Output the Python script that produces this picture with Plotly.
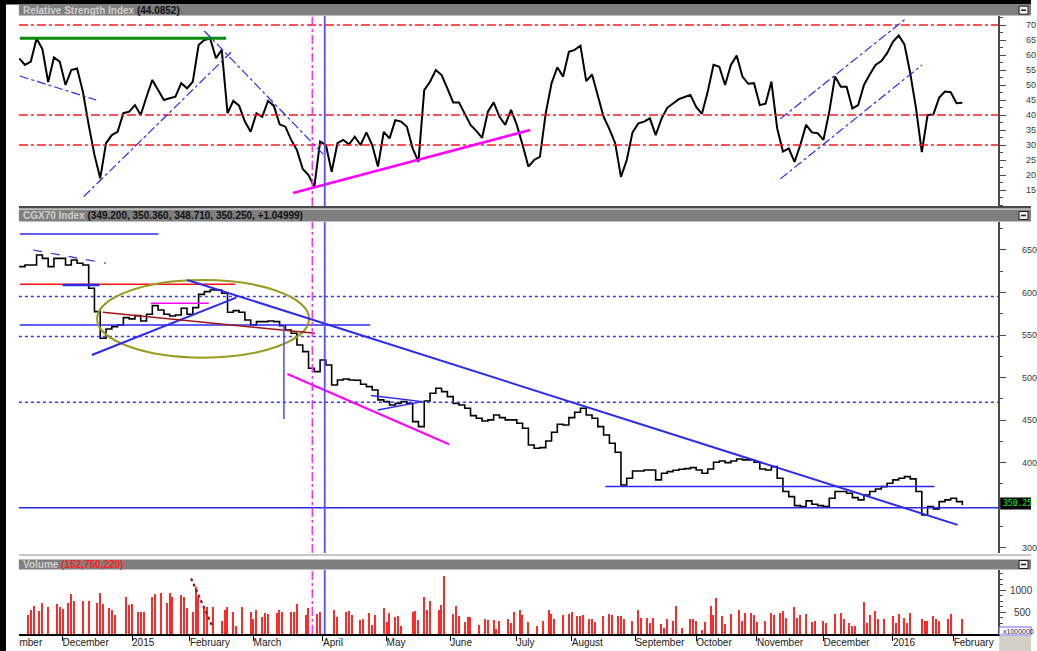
import plotly.graph_objects as go

W, H = 1037, 651

# ---------------- data (session index = trading-day slot) ----------------
rsi_values = [
    58.9, 56.7, 57.8, 65.5, 62.0, 51.0, 59.2, 57.8, 50.0, 55.0,
    55.5, 47.8, 36.7, 26.7, 18.9, 30.6, 33.3, 34.4, 40.6, 41.1,
    43.3, 40.0, 46.1, 51.7, 48.3, 45.0, 45.6, 46.1, 50.6, 48.9,
    51.1, 63.3, 65.0, 65.5, 58.9, 61.7, 40.6, 44.7, 43.1, 37.8,
    34.4, 40.6, 39.4, 44.7, 43.1, 36.9, 36.1, 31.7, 28.3, 22.0,
    20.0, 16.0, 31.1, 30.0, 21.1, 30.6, 31.7, 30.2, 32.8, 30.0,
    34.2, 30.0, 22.8, 34.4, 32.2, 38.3, 37.8, 36.1, 28.9, 24.4,
    48.3, 51.1, 55.0, 53.3, 48.9, 44.2, 44.2, 40.6, 36.7, 34.7,
    32.4, 41.1, 44.2, 39.4, 36.7, 41.7, 36.7, 30.0, 22.8, 25.0,
    26.1, 40.6, 50.6, 55.9, 52.8, 61.1, 61.7, 63.1, 51.3, 53.5,
    46.7, 39.4, 35.3, 30.6, 19.4, 25.0, 34.2, 37.2, 37.8, 38.9,
    33.3, 38.7, 42.4, 43.9, 45.3, 46.0, 46.7, 42.7, 40.4, 47.8,
    56.7, 56.1, 50.0, 56.7, 59.8, 52.8, 50.4, 50.6, 43.3, 43.8,
    51.1, 35.6, 27.8, 28.9, 24.4, 30.0, 36.7, 34.2, 33.9, 31.7,
    41.1, 52.8, 49.4, 49.4, 42.2, 43.3, 50.0, 53.5, 56.7, 58.0,
    60.6, 64.4, 66.5, 63.5, 53.9, 42.2, 27.6, 40.0, 40.2, 45.8,
    47.8, 47.6, 43.9, 44.1,
]

price_close = [
    630.4, 632.4, 632.4, 644.1, 640.2, 630.4, 640.2, 640.2, 632.4, 638.3,
    634.4, 632.4, 605.0, 577.6, 546.2, 557.2, 559.9, 561.9, 570.5, 569.0,
    572.9, 566.6, 574.4, 584.6, 579.5, 574.4, 572.5, 573.6, 581.5, 574.4,
    582.3, 597.9, 601.1, 603.0, 603.0, 599.1, 576.8, 578.7, 576.8, 567.8,
    561.9, 565.8, 565.8, 566.6, 565.8, 561.1, 556.0, 552.1, 538.4, 530.6,
    511.0, 507.1, 520.8, 514.9, 491.4, 497.3, 498.4, 497.3, 496.9, 492.2,
    489.4, 485.5, 473.8, 471.8, 467.9, 469.8, 471.8, 469.8, 448.3, 442.4,
    472.6, 481.6, 487.5, 483.6, 477.7, 469.8, 467.9, 464.0, 455.4, 452.2,
    449.1, 450.3, 456.1, 453.0, 450.3, 450.3, 446.4, 440.5, 420.9, 417.0,
    417.7, 425.6, 435.8, 445.2, 444.4, 453.0, 459.3, 464.0, 456.1, 452.2,
    442.4, 432.6, 422.8, 412.3, 373.9, 381.7, 390.3, 390.3, 391.5, 391.5,
    379.8, 387.6, 389.5, 391.1, 392.3, 393.1, 394.2, 391.5, 387.6, 392.7,
    400.5, 402.1, 400.1, 402.1, 404.4, 403.3, 403.3, 400.5, 392.7, 391.5,
    395.4, 381.7, 366.1, 360.2, 349.6, 348.4, 355.1, 351.2, 349.6, 348.4,
    358.2, 366.1, 366.1, 364.1, 359.0, 356.3, 362.1, 366.1, 369.2, 371.9,
    375.8, 379.8, 381.7, 383.7, 381.0, 366.1, 338.6, 348.4, 345.7, 354.3,
    356.3, 358.2, 354.3, 350.25,
]

N = None
volume_values = [
    N, N, N, 435, 549, 641, N, 526, 702, N,
    610, N, N, 679, 610, 564, N, 702, 908, 763,
    N, N, 763, N, 763, N, N, 702, 938, 679,
    N, 587, 549, 435, N, N, N, 854, 664, 686,
    N, 503, 503, 503, N, N, 854, 908, N, 931,
    N, 702, 931, 854, N, N, 885, 854, 587, N,
    503, 1083, 854, N, 625, 610, N, 610, N, N,
    297, 549, 625, N, 503, 175, N, 610, N, N,
    503, 336, 549, N, 381, 473, 450, N, N, 473,
    549, 503, N, N, 503, 503, 679, N, N, 435,
    587, N, N, 450, 503, N, N, N, N, 557,
    381, N, N, 503, 526, 435, N, N, 320, 351,
    N, 473, 206, 435, N, N, 587, 267, 473, N,
    381, 412, 175, N, N, N, 503, 526, 328, N,
    854, 549, 763, N, N, 549, 656, 1327, N, N,
    450, 641, 412, N, 267, 381, 397, N, N, 206,
    N, 351, 328, N, 328, 122, 308, N, N, 339,
    253, 512, N, 551, 433, N, 284, N, N, 190,
    N, 308, N, 551, 465, 339, N, N, 433, N,
    465, 512, N, 402, 402, 433, N, 339, 339, 284,
    N, N, 402, N, 465, 433, N, 402, 402, 339,
    N, N, 308, N, 551, 371, N, 371, 253, 371,
    N, N, 222, 128, 339, N, 308, 645, N, 128,
    N, N, 339, 339, 308, N, 96, 284, N, 645,
    433, 825, N, 402, 222, N, 465, N, N, 551,
    308, 488, N, 488, 433, 284, N, N, 308, N,
    488, 433, N, 488, 520, 371, N, N, 614, 371,
    433, N, 465, N, 284, 308, N, N, 308, 253,
    N, N, 465, N, 488, 339, N, 253, 190, 190,
    N, N, 731, 253, 433, N, 520, 339, N, 339,
    N, N, 402, 253, 465, N, 371, 253, 488, N,
    N, N, 339, 308, 308, N, 402, 339, 308, N,
    N, 339, 465, N, N, N, 339,
]

month_sessions = [-8, 15, 39, 59, 81, 105, 127, 149, 172, 191, 213, 234, 255, 278, 302, 323]
month_labels = ["November", "December", "2015", "February", "March", "April", "May", "June",
                "July", "August", "September", "October", "November", "December", "2016", "February"]

rsi_ticks = [15, 20, 25, 30, 35, 40, 45, 50, 55, 60, 65, 70]
price_ticks = [300, 350, 400, 450, 500, 550, 600, 650]
price_ticktext = ["300", "", "400", "450", "500", "550", "600", "650"]
volume_ticks = [500, 1000]
rsi_levels = [70, 40, 30]
price_dotted_levels = [595.2, 548.2, 471.0]
marker_sessions = {"magenta": 101.3, "blue": 105.6}

rsi_last = "44.0852"
index_name = "CGX70 Index"
index_quote = "(349.200, 350.360, 348.710, 350.250, +1.04999)"
volume_last = "(152,750,220)"
price_last = "350.25"

sess2 = list(range(0, 2 * len(rsi_values), 2))
vol_sess = list(range(len(volume_values)))

# ---------------- helpers ----------------
def px(x):
    return x / W

def py(y):
    return 1 - y / H

FONT = "Liberation Sans"
BLUE = "#2b2bf0"
shapes = []
annotations = []

def seg(xr, yr, x0, y0, x1, y1, color, width, dash="solid"):
    shapes.append(dict(type="line", xref=xr, yref=yr, x0=x0, y0=y0, x1=x1, y1=y1,
                       line=dict(color=color, width=width, dash=dash)))

def rect(x0, y0, x1, y1, fill, line=None, lw=0):
    shapes.append(dict(type="rect", xref="paper", yref="paper", x0=px(x0), x1=px(x1),
                       y0=py(y1), y1=py(y0), fillcolor=fill,
                       line=dict(color=line or fill, width=lw)))

# ---------------- frame / headers ----------------
rect(0, 0, W, 4.5, "#000000")
rect(0, 0, 6, H, "#000000")
rect(19, 5, W, 15.5, "#7f7f7f")
rect(19, 206, W, 208.5, "#4a4a4a")
rect(19, 209.5, W, 221.5, "#7f7f7f")
rect(19, 554, W, 556, "#c8c8c8")
rect(19, 559.5, W, 569.5, "#7f7f7f")
for yc in (10.2, 215.5, 564.5):
    rect(1025, yc - 4, 1034, yc + 4, "#f0f0f0", "#202020", 1)
    shapes.append(dict(type="line", xref="paper", yref="paper", x0=px(1027), x1=px(1032),
                       y0=py(yc), y1=py(yc), line=dict(color="#202020", width=1.5)))
rect(1005, 636, W, H, "#d4d0c8")
rect(1005, 627, W, 635, "#ffffff", "#6a6af0", 1)
annotations.append(dict(x=px(1007), y=py(631), xref="paper", yref="paper", xanchor="left",
                        yanchor="middle", showarrow=False, text="x1000000",
                        font=dict(family=FONT, size=7, color="#202060")))
rect(1006, 497.5, W, 509.5, "#000000")
annotations.append(dict(x=px(1007), y=py(503.5), xref="paper", yref="paper", xanchor="left",
                        yanchor="middle", showarrow=False, text=price_last,
                        font=dict(family="DejaVu Sans Mono", size=8, color="#00ff00")))

def header(y, html):
    annotations.append(dict(x=px(21), y=py(y), xref="paper", yref="paper", xanchor="left",
                            yanchor="middle", showarrow=False, text=html,
                            font=dict(family=FONT, size=10)))

header(10.3, "<b><span style='color:#cfcfcf'>Relative Strength Index</span> "
             f"<span style='color:#111111'>({rsi_last})</span></b>")
header(215.5, f"<b><span style='color:#cfcfcf'>{index_name}</span> "
              f"<span style='color:#111111'>{index_quote}</span></b>")
header(564.6, "<b><span style='color:#cfcfcf'>Volume</span> "
              f"<span style='color:#ff2020'>{volume_last}</span></b>")

for v, xx in ((1000, 1014), (500, 1018)):
    annotations.append(dict(x=px(xx), y=v, xref="paper", yref="y3", xanchor="left",
                            yanchor="middle", showarrow=False, text=str(v),
                            font=dict(family=FONT, size=10, color="#333333")))

# ---------------- RSI drawings ----------------
for lv in rsi_levels:
    seg("x domain", "y", 0, lv, 1, lv, "#ff1a1a", 1.5, "dashdot")
seg("x", "y", 0.2, 65.6, 71.5, 65.6, "#0a8a0a", 3)
seg("x", "y", 0.2, 53.0, 26.6, 45.0, BLUE, 1.2, "dashdot")
seg("x", "y", 22.3, 12.8, 73.2, 60.9, BLUE, 1.2, "dashdot")
seg("x", "y", 64.0, 68.0, 105.3, 26.7, BLUE, 1.2, "dashdot")
seg("x", "y", 94.7, 14.0, 176.6, 35.0, "#ff00ff", 2.5)
seg("x", "y", 263.1, 38.7, 306.6, 72.2, BLUE, 1.2, "dashdot")
seg("x", "y", 263.1, 18.7, 312.1, 56.7, BLUE, 1.2, "dashdot")

# ---------------- price drawings ----------------
for lv in price_dotted_levels:
    seg("x2 domain", "y2", 0, lv, 1, lv, "#3535ff", 1.5, "dot")
seg("x2", "y2", 0.2, 668.8, 48.1, 668.8, BLUE, 1.5)
seg("x2", "y2", 0.2, 609.7, 74.7, 609.7, "#ff1010", 1.5)
seg("x2", "y2", 15.0, 608.9, 27.7, 608.9, BLUE, 2.5)
seg("x2", "y2", 4.8, 650.0, 30.0, 634.4, BLUE, 1.2, "dash")
seg("x2", "y2", 0.2, 561.9, 121.3, 561.9, BLUE, 1.5)
seg("x2 domain", "y2", 0, 347.2, 1, 347.2, BLUE, 1.5)
seg("x2", "y2", 202.6, 372.0, 316.4, 372.0, BLUE, 1.5)
shapes.append(dict(type="circle", xref="x2", yref="y2", x0=26.9, x1=100.2, y0=523.5, y1=614.8,
                   line=dict(color="#9a9a1e", width=2)))
seg("x2", "y2", 58.1, 614.8, 324.4, 326.9, BLUE, 2)
seg("x2", "y2", 25.1, 526.6, 75.0, 594.0, BLUE, 2)
seg("x2", "y2", 28.9, 576.8, 102.2, 552.1, "#a01515", 1.5)
seg("x2", "y2", 45.5, 587.4, 65.5, 587.4, "#ff00ff", 1.5)
seg("x2", "y2", 91.5, 561.9, 91.5, 451.4, "#4a4aff", 1.5)
seg("x2", "y2", 92.7, 504.3, 148.6, 421.7, "#ff00ff", 2)
seg("x2", "y2", 121.6, 478.9, 139.4, 471.8, BLUE, 1.5)
seg("x2", "y2", 123.9, 462.0, 139.4, 471.8, BLUE, 1.5)

# ---------------- volume drawings ----------------
seg("x3", "y3", 59.4, 1274, 66.7, 183, "#8b1a1a", 2.2, "dot")

for xr, yr in (("x", "y"), ("x2", "y2"), ("x3", "y3")):
    seg(xr, yr + " domain", marker_sessions["magenta"], 0, marker_sessions["magenta"], 1,
        "#ff30ff", 1.5, "dashdot")
    seg(xr, yr + " domain", marker_sessions["blue"], 0, marker_sessions["blue"], 1,
        "#5050ff", 1.8)

# ---------------- traces ----------------
fig = go.Figure()
fig.add_trace(go.Scatter(x=sess2, y=rsi_values, mode="lines", xaxis="x", yaxis="y",
                         line=dict(color="#000000", width=2), hoverinfo="skip"))
fig.add_trace(go.Scatter(x=sess2, y=price_close, mode="lines", xaxis="x2", yaxis="y2",
                         line=dict(color="#000000", width=1.6, shape="hv"), hoverinfo="skip"))
fig.add_trace(go.Bar(x=vol_sess, y=volume_values, xaxis="x3", yaxis="y3",
                     marker=dict(color="#ff2a2a", line=dict(width=0)), width=0.5,
                     hoverinfo="skip"))
fig.add_trace(go.Scatter(x=month_sessions, y=[0.5] * len(month_sessions), mode="text",
                         text=month_labels, textposition="middle right", cliponaxis=True,
                         textfont=dict(family=FONT, size=10, color="#1a1a1a"),
                         xaxis="x4", yaxis="y4", hoverinfo="skip"))

xdom = [px(19), px(1004)]
xrange_ = [-0.12, 338.4]
xbase = dict(domain=xdom, range=xrange_, showgrid=False, zeroline=False,
             showticklabels=False, ticks="", showline=False, fixedrange=True)

yright = dict(side="right", showline=True, linecolor="#4a4a4a", linewidth=2,
              ticks="outside", ticklen=6, tickwidth=1.2, tickcolor="#4a4a4a",
              showgrid=False, zeroline=False, fixedrange=True)

fig.update_layout(
    width=W, height=H, margin=dict(l=0, r=0, t=0, b=0),
    paper_bgcolor="#ffffff", plot_bgcolor="#ffffff", showlegend=False, bargap=0,
    xaxis=dict(**xbase, anchor="y"),
    xaxis2=dict(**xbase, anchor="y2"),
    xaxis3=dict(domain=xdom, range=xrange_, showgrid=False, zeroline=False,
                showticklabels=False, fixedrange=True, anchor="y3",
                showline=True, linecolor="#000000", linewidth=1.5,
                ticks="outside", tickvals=month_sessions, ticklen=5, tickcolor="#000000"),
    xaxis4=dict(**xbase, anchor="y4"),
    yaxis=dict(**yright, domain=[py(206), py(16)], range=[9.667, 73.0], anchor="x",
               tickvals=rsi_ticks, ticktext=[str(v) for v in rsi_ticks],
               ticklabelstandoff=18,
               tickfont=dict(family=FONT, size=9, color="#3a3a3a"),
               minor=dict(dtick=2.5, tick0=0, ticks="outside", ticklen=3, tickcolor="#4a4a4a")),
    yaxis2=dict(**yright, domain=[py(553), py(222)], range=[293.9, 682.9], anchor="x2",
                tickvals=price_ticks, ticktext=price_ticktext, ticklabelstandoff=14,
                tickfont=dict(family=FONT, size=9, color="#3a3a3a"),
                minor=dict(dtick=25, tick0=0, ticks="outside", ticklen=3, tickcolor="#4a4a4a")),
    yaxis3=dict(**yright, domain=[py(634), py(570)], range=[0, 1464.6], anchor="x3",
                tickvals=volume_ticks, showticklabels=False,
                minor=dict(dtick=125, tick0=0, ticks="outside", ticklen=3, tickcolor="#4a4a4a")),
    yaxis4=dict(domain=[py(651), py(636)], range=[0, 1], visible=False, fixedrange=True,
                anchor="x4"),
    shapes=shapes, annotations=annotations,
)

fig.write_html("out.html")
